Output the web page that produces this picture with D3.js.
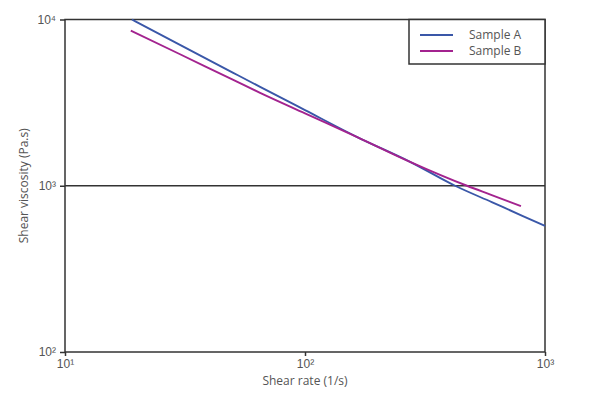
<!DOCTYPE html>
<html lang="en">
<head>
    <meta charset="UTF-8">
    <title>Shear viscosity</title>
    <script src="https://d3js.org/d3.v7.min.js"></script>
    <style>
        body { margin: 0; background: #fff; }
        svg { display: block; font-family: "Open Sans", "Noto Sans", sans-serif; }
    </style>
</head>
<body>
    <div id="chart"></div>

    <script>
        // values
        const shearRateA = [19, 30, 50, 65, 100, 165, 274, 422, 600, 800, 1000];
        const viscosityA = [10000, 7065, 4797, 3935, 2851, 1963, 1393, 1000, 797, 662, 574];
        const shearRateB = [18.8, 30, 50, 65, 100, 165, 274, 473, 600, 794];
        const viscosityB = [8570, 6200, 4345, 3623, 2727, 1963, 1393, 1000, 879, 754];
        const seriesNames = ["Sample A", "Sample B"];
        const colors = ["#3a57a8", "#a3238f"];
        const xTicks = [10, 100, 1000];
        const yTicks = [100, 1000, 10000];

        const width = 600;
        const height = 395;
        const margin = {top: 19.5, right: 55, bottom: 43, left: 65};

        const svg = d3.select("#chart").append("svg")
            .attr("width", width)
            .attr("height", height);

        const x = d3.scaleLog().domain([10, 1000]).range([margin.left, width - margin.right]);
        const y = d3.scaleLog().domain([100, 10000]).range([height - margin.bottom, margin.top]);

        const sup = {"1": "\u00b9", "2": "\u00b2", "3": "\u00b3", "4": "\u2074"};
        const fmt = d => "10" + sup[String(Math.round(Math.log10(d)))];

        // axes
        svg.append("g")
            .attr("transform", `translate(0,${y(100)})`)
            .call(d3.axisBottom(x).tickValues(xTicks).tickFormat(fmt).tickSize(4).tickPadding(3))
            .call(g => g.select(".domain").remove())
            .call(g => g.selectAll("line").attr("stroke", "#333").attr("stroke-width", 1.5))
            .call(g => g.selectAll("text").attr("fill", "#555").style("font-size", "12px"));

        svg.append("g")
            .attr("transform", `translate(${x(10)},0)`)
            .call(d3.axisLeft(y).tickValues(yTicks).tickFormat(fmt).tickSize(5).tickPadding(4))
            .call(g => g.select(".domain").remove())
            .call(g => g.selectAll("line").attr("stroke", "#333").attr("stroke-width", 1.5))
            .call(g => g.selectAll("text").attr("fill", "#555").style("font-size", "12px"));

        // gridline at 10^3
        svg.append("line")
            .attr("x1", x(10)).attr("x2", x(1000))
            .attr("y1", y(1000)).attr("y2", y(1000))
            .attr("stroke", "#333").attr("stroke-width", 1.3);

        // frame
        svg.append("rect")
            .attr("x", x(10)).attr("y", y(10000))
            .attr("width", x(1000) - x(10)).attr("height", y(100) - y(10000))
            .attr("fill", "none").attr("stroke", "#333").attr("stroke-width", 1.5);

        const line = d3.line()
            .x(d => x(d[0]))
            .y(d => y(d[1]))
            .curve(d3.curveMonotoneX);

        const series = [
            d3.zip(shearRateA, viscosityA),
            d3.zip(shearRateB, viscosityB)
        ];

        svg.append("g").selectAll("path")
            .data(series)
            .join("path")
            .attr("d", line)
            .attr("fill", "none")
            .attr("stroke", (d, i) => colors[i])
            .attr("stroke-width", 1.9);

        // axis titles
        svg.append("text")
            .attr("x", x(100))
            .attr("y", 385)
            .attr("text-anchor", "middle")
            .attr("fill", "#555")
            .style("font-size", "12px")
            .text("Shear rate (1/s)");

        svg.append("text")
            .attr("transform", `translate(28,${(y(100) + y(10000)) / 2}) rotate(-90)`)
            .attr("text-anchor", "middle")
            .attr("fill", "#555")
            .style("font-size", "12px")
            .text("Shear viscosity (Pa.s)");

        // legend
        const legend = svg.append("g").attr("transform", "translate(409,19.5)");
        legend.append("rect")
            .attr("width", 136).attr("height", 44.5)
            .attr("fill", "#fff").attr("stroke", "#333").attr("stroke-width", 1.5);
        seriesNames.forEach((name, i) => {
            const yy = 15.5 + i * 16;
            legend.append("line")
                .attr("x1", 11).attr("x2", 44)
                .attr("y1", yy).attr("y2", yy)
                .attr("stroke", colors[i]).attr("stroke-width", 1.9);
            legend.append("text")
                .attr("x", 60).attr("y", yy)
                .attr("dy", "0.35em")
                .attr("fill", "#555")
                .style("font-size", "12px")
                .text(name);
        });
    </script>
</body>
</html>
